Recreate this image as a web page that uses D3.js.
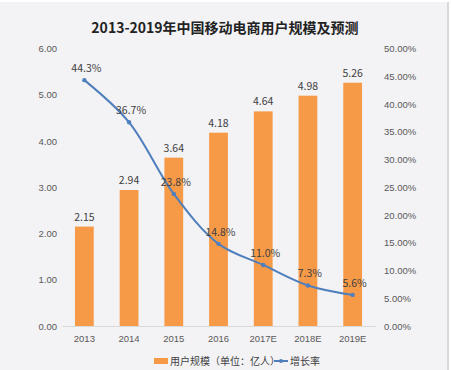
<!DOCTYPE html>
<html>
<head>
<meta charset="utf-8">
<title>2013-2019年中国移动电商用户规模及预测</title>
<script src="https://cdn.jsdelivr.net/npm/d3@7"></script>
<style>
  body{margin:0;background:#fff;}
  svg{display:block;font-family:"Noto Sans CJK SC","Noto Sans",sans-serif;}
  .tick text{fill:#595959;font-size:9.5px;}
  .val{fill:#404040;font-size:10.5px;text-anchor:middle;}
</style>
</head>
<body>
<div id="chart"></div>
<script>
// data
var years = ["2013","2014","2015","2016","2017E","2018E","2019E"];
var users = [2.15, 2.94, 3.64, 4.18, 4.64, 4.98, 5.26];   // 亿人
var growth = [44.3, 36.7, 23.8, 14.8, 11.0, 7.3, 5.6];    // %
var leftTicks = [0,1,2,3,4,5,6];
var rightTicks = [0,5,10,15,20,25,30,35,40,45,50];

var W = 451, H = 370;
var svg = d3.select("#chart").append("svg").attr("width", W).attr("height", H);

// background panel
svg.append("rect").attr("x",0).attr("y",2).attr("width",447).attr("height",H-2).attr("fill","#f3f2f5");
svg.append("rect").attr("x",447).attr("y",2).attr("width",2).attr("height",H-2).attr("fill","#d9d8dc");

svg.append("text").attr("x",225).attr("y",33).attr("text-anchor","middle")
  .attr("font-size","14px").attr("font-weight","bold").attr("fill","#222")
  .text("2013-2019年中国移动电商用户规模及预测");

var x = d3.scaleBand().domain(years).range([62,375]).paddingInner(0.58).paddingOuter(0.29);
var yL = d3.scaleLinear().domain([0,6]).range([326,48.5]);
var yR = d3.scaleLinear().domain([0,50]).range([326,48.5]);

// axes
var axL = svg.append("g").attr("transform","translate(57,0)")
  .call(d3.axisLeft(yL).tickValues(leftTicks).tickFormat(d3.format(".2f")).tickSize(0).tickPadding(0));
axL.select(".domain").remove();

var axR = svg.append("g").attr("transform","translate(384,0)")
  .call(d3.axisRight(yR).tickValues(rightTicks).tickFormat(function(d){return d.toFixed(2)+"%";}).tickSize(0).tickPadding(0));
axR.select(".domain").remove();

var axB = svg.append("g").attr("transform","translate(0,326)")
  .call(d3.axisBottom(x).tickSize(0).tickPadding(9));
axB.select(".domain").attr("stroke","#d9d9d9");

// bars
svg.selectAll(".bar").data(users).enter().append("rect")
  .attr("class","bar")
  .attr("x",function(d,i){return x(years[i]);})
  .attr("y",function(d){return yL(d);})
  .attr("width",x.bandwidth())
  .attr("height",function(d){return 326-yL(d);})
  .attr("fill","#f79a48");

svg.selectAll(".bv").data(users).enter().append("text")
  .attr("class","val")
  .attr("x",function(d,i){return x(years[i])+x.bandwidth()/2;})
  .attr("y",function(d){return yL(d)-6;})
  .text(function(d){return d.toFixed(2);});

// growth line
var cx = function(i){return x(years[i])+x.bandwidth()/2;};
var line = d3.line().x(function(d,i){return cx(i);}).y(function(d){return yR(d);}).curve(d3.curveCatmullRom.alpha(0.5));
svg.append("path").datum(growth).attr("d",line).attr("fill","none").attr("stroke","#4f7fbc").attr("stroke-width",2);

svg.selectAll(".pt").data(growth).enter().append("circle")
  .attr("cx",function(d,i){return cx(i);}).attr("cy",function(d){return yR(d);})
  .attr("r",2.2).attr("fill","#4f7fbc");

svg.selectAll(".gv").data(growth).enter().append("text")
  .attr("class","val")
  .attr("x",function(d,i){return cx(i)+2;})
  .attr("y",function(d){return yR(d)-8;})
  .text(function(d){return d.toFixed(1)+"%";});

// legend
var lg = svg.append("g").attr("transform","translate(0,361)");
lg.append("rect").attr("x",154).attr("y",-3).attr("width",14).attr("height",6).attr("fill","#f79a48");
lg.append("text").attr("x",170).attr("y",4).attr("font-size","10px").attr("fill","#404040").text("用户规模（单位：亿人）");
lg.append("line").attr("x1",274).attr("x2",288).attr("y1",0).attr("y2",0).attr("stroke","#4f7fbc").attr("stroke-width",2);
lg.append("circle").attr("cx",281).attr("cy",0).attr("r",2).attr("fill","#4f7fbc");
lg.append("text").attr("x",290).attr("y",4).attr("font-size","10px").attr("fill","#404040").text("增长率");
</script>
</body>
</html>
